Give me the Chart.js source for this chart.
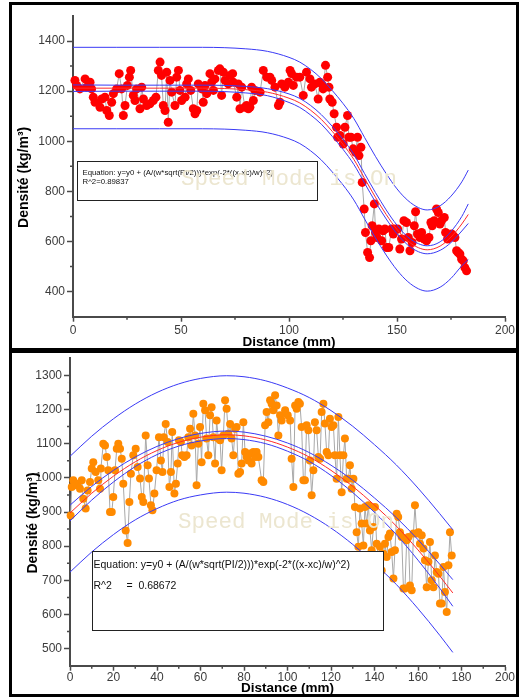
<!DOCTYPE html>
<html>
<head>
<meta charset="utf-8">
<script src="https://cdn.jsdelivr.net/npm/chart.js@4.4.0/dist/chart.umd.min.js"></script>
<style>
    body { margin: 0; background: #fff; }
    .panel { position: absolute; left: 9px; width: 504px; border: 3px solid #000; background: #fff; }
    #top-panel { top: 2px; height: 343px; }
    #bottom-panel { top: 350px; height: 341px; }
    canvas { display: block; }
</style>
</head>
<body>
<div class="panel" id="top-panel"><canvas id="top-chart" width="504" height="343"></canvas></div>
<div class="panel" id="bottom-panel"><canvas id="bottom-chart" width="504" height="341"></canvas></div>
<script>
// ---- top panel (red) ----
const topDistance = [
    0.9, 1.7, 3.2, 5.6, 6.3, 7.9, 8.6, 9.4, 10.2, 12.5, 13.3, 14.8, 15.6, 16.8, 17.9, 18.7, 20.2, 21.4, 22.5, 23.3,
    24.1, 25.2, 26.1, 26.7, 27.9, 28.7, 29.5, 31.0, 31.8, 32.6, 34.1, 35.6, 37.2, 38.4, 39.5, 40.3, 41.0, 41.8, 42.6, 43.4,
    44.1, 44.9, 45.7, 47.2, 48.0, 48.8, 49.5, 50.3, 51.9, 52.6, 53.4, 54.5, 55.7, 56.5, 57.3, 58.0, 59.6, 60.3, 61.1, 61.9,
    63.4, 64.2, 65.0, 65.7, 67.3, 68.0, 68.8, 69.6, 70.4, 71.9, 72.7, 73.9, 74.2, 75.8, 76.5, 77.3, 78.1, 79.6, 80.4, 81.2,
    81.9, 82.7, 83.5, 84.3, 86.6, 88.1, 89.7, 91.2, 92.0, 93.5, 95.1, 95.8, 96.6, 98.1, 99.7, 100.5, 101.2,
    102.0, 103.5, 105.0, 106.6, 108.1, 109.7, 110.4, 112.0, 113.5, 114.3, 115.1, 115.8, 116.9, 117.9, 118.5, 118.9, 120.0, 120.9, 122.0, 122.5,
    123.6, 125.1, 125.9, 127.1, 127.7, 128.7, 129.7, 130.8, 131.7, 132.4, 133.3, 133.9, 134.8, 135.4, 136.4, 137.3, 137.9, 138.5, 139.5, 140.1,
    140.7, 141.6, 142.9, 143.6, 144.4, 145.2, 146.2, 147.5, 148.3, 149.0, 150.3, 151.3, 152.1, 153.2, 154.4, 155.2, 156.0, 157.0, 158.0, 158.6,
    159.5, 160.6, 161.4, 162.6, 163.7, 164.8, 165.7, 166.3, 167.2, 168.3, 169.1, 169.9, 170.6, 171.9, 172.5, 173.4, 174.5, 175.3, 176.0, 176.8,
    177.6, 178.3, 179.1, 179.9, 180.7, 181.4, 182.2
];
const topDensity = [
    1243, 1223, 1209, 1249, 1216, 1236, 1209, 1176, 1156, 1136, 1169, 1176, 1123, 1103, 1156, 1190, 1209, 1270, 1209, 1103,
    1143, 1223, 1256, 1283, 1183, 1163, 1209, 1130, 1216, 1169, 1143, 1150, 1163, 1176, 1283, 1316, 1263, 1143, 1123, 1276,
    1076, 1243, 1196, 1143, 1256, 1283, 1203, 1163, 1176, 1229, 1249, 1203, 1130, 1110, 1123, 1229, 1209, 1156, 1223, 1190,
    1270, 1236, 1203, 1249, 1283, 1289, 1183, 1276, 1243, 1229, 1263, 1270, 1236, 1176, 1229, 1130, 1216, 1136, 1143, 1130,
    1136, 1216, 1163, 1203, 1196, 1283, 1256, 1256, 1243, 1216, 1143, 1156, 1229, 1216, 1236, 1283, 1270,
    1223, 1256, 1256, 1183, 1276, 1249, 1216, 1229, 1169, 1236, 1229, 1209, 1303, 1256, 1216, 1169, 1156, 1110, 1056, 1016,
    1023, 989, 1056, 1103, 1016, 1016, 970, 956, 1016, 943, 976, 836, 730, 636, 556, 536, 603, 663, 750, 636,
    616, 650, 603, 643, 650, 576, 576, 650, 630, 650, 650, 570, 610, 683, 676, 616, 563, 596, 663, 719,
    630, 616, 636, 610, 603, 616, 676, 663, 683, 730, 716, 670, 683, 696, 636, 610, 616, 630, 623, 616,
    563, 556, 550, 530, 523, 496, 483
];
const topFitDistance = [0, 20, 40, 60, 80, 90, 100, 105, 110, 115, 120, 125, 130, 135, 140, 145, 150, 155, 160, 164, 170, 175, 180, 183];
const topFit =       [1212, 1212, 1212, 1212, 1206, 1196, 1172, 1153, 1124, 1087, 1040, 988, 928, 852, 777, 708, 648, 602, 575, 567, 582, 618, 670, 708];
const topConfUpper = [1225, 1224, 1224, 1224, 1219, 1210, 1189, 1171, 1143, 1106, 1060, 1008, 948, 871, 796, 726, 665, 618, 591, 583, 599, 640, 700, 750];
const topConfLower = [1199, 1200, 1200, 1200, 1193, 1182, 1155, 1135, 1105, 1068, 1020, 968, 908, 833, 758, 690, 631, 586, 559, 551, 565, 596, 642, 672];
const topPredUpper = [1375, 1375, 1375, 1375, 1369, 1359, 1335, 1316, 1287, 1250, 1203, 1151, 1091, 1015, 940, 871, 810, 764, 735, 726, 743, 781, 838, 885];
const topPredLower = [1050, 1050, 1050, 1050, 1044, 1034, 1010, 991, 962, 925, 878, 826, 766, 690, 615, 546, 486, 440, 411, 402, 418, 453, 503, 528];
const topXTicks = [0, 50, 100, 150, 200];
const topXMinorTicks = [25, 75, 125, 175];
const topYTicks = [400, 600, 800, 1000, 1200, 1400];
const topYMinorTicks = [500, 700, 900, 1100, 1300];
const topBoxLines = ["Equation: y=y0 + (A/(w*sqrt(PI/2)))*exp(-2*((x-xc)/w)^2)", "R^2=0.89837"];

// ---- bottom panel (orange) ----
const bottomDistance = [
    0.3, 0.8, 1.5, 2.3, 3.5, 4.6, 5.4, 6.1, 7.2, 8.1, 9.2, 10.0, 10.7, 11.8, 13.0, 13.8, 14.2, 15.3, 16.1, 16.9, 17.6,
    18.4, 19.2, 19.9, 20.7, 21.5, 22.2, 23.0, 23.8, 24.5, 25.6, 26.5, 27.3, 28.0, 29.1, 30.2, 31.1, 32.2, 33.0, 33.7, 34.8,
    35.7, 36.3, 37.2, 37.9, 38.8, 39.8, 40.9, 41.8, 42.5, 43.1, 44.0, 44.9, 45.7, 46.4, 47.0, 48.0, 48.7, 49.5, 50.1, 51.0,
    51.6, 52.6, 53.6, 54.4, 55.2, 55.9, 56.7, 57.5, 58.2, 59.0, 59.8, 60.5, 61.3, 62.1, 62.8, 63.6, 64.4, 65.1, 65.9, 66.7,
    67.4, 68.2, 69.0, 69.7, 70.5, 71.3, 72.0, 72.8, 73.6, 74.3, 75.1, 75.9, 76.6, 77.4, 78.2, 78.9, 79.7, 80.5, 81.2, 82.0,
    82.8, 83.5, 84.3, 85.1, 85.8, 86.6, 88.1, 88.9, 89.7, 90.4, 91.2, 92.0, 92.7, 93.5, 94.3, 95.0, 95.8, 96.6, 97.3, 98.9,
    100.1, 101.2, 101.9, 102.7, 103.5, 104.2, 105.0, 105.7, 106.5, 107.3, 108.0, 108.8, 109.6, 110.3, 111.1, 111.9, 112.6, 113.4, 114.2, 115.0,
    115.7, 116.5, 117.2, 118.0, 118.8, 119.5, 120.3, 121.1, 121.8, 122.6, 123.4, 124.1, 124.9, 125.7, 126.4, 127.2, 128.0, 128.7, 129.5, 130.3,
    131.0, 131.8, 132.6, 133.3, 134.1, 134.9, 135.6, 136.4, 137.2, 137.9, 138.7, 139.5, 140.2, 141.0, 141.8, 142.5, 143.3, 144.1, 144.8, 145.6,
    146.4, 147.1, 147.9, 148.7, 149.4, 150.2, 150.9, 151.7, 152.5, 153.3, 154.0, 154.8, 155.6, 156.3, 157.1, 157.9, 158.6, 159.4, 160.2, 160.9,
    161.7, 162.5, 163.2, 164.0, 164.8, 165.5, 166.3, 167.1, 167.8, 168.6, 169.4, 170.1, 170.9, 171.7, 172.4, 173.2, 174.0, 174.7, 175.5
];
const bottomDensity = [
    890, 973, 993, 978, 983, 968, 993, 939, 910, 963, 988, 1027, 1046, 1017, 993, 968, 1027, 1100, 1095, 1061, 1022,
    900, 900, 944, 1022, 1085, 1100, 1085, 1056, 983, 846, 809, 929, 1012, 1066, 1085, 1032, 998, 944, 929, 1124,
    1037, 998, 920, 905, 954, 1022, 1119, 1051, 1017, 1119, 1158, 1105, 973, 1017, 1134, 954, 983, 1042, 1110, 1105,
    1066, 1061, 1066, 1119, 1144, 1095, 1188, 1124, 978, 1100, 1149, 1046, 1217, 1198, 1115, 1066, 1183, 1207, 1119, 1042,
    1168, 1115, 1110, 1022, 1124, 1227, 1202, 1129, 1158, 1115, 1066, 1144, 1149, 1012, 1017, 1042, 1163, 1076, 1061, 1051,
    1071, 1042, 1076, 1061, 1076, 1061, 993, 988, 1154, 1193, 1163, 1227, 1217, 1198, 1242, 1212, 1124, 1183, 1168, 1198,
    1183, 1168, 1056, 973, 1212, 1202, 1222, 1217, 1149, 993, 993, 1154, 1139, 1051, 949, 1022, 1163, 1139, 1061, 1056,
    1193, 1217, 1159, 1076, 1066, 1173, 1149, 1154, 1066, 997, 1178, 1066, 958, 1066, 1115, 997, 997, 1037, 968, 997,
    915, 841, 798, 910, 866, 802, 915, 866, 920, 846, 788, 856, 915, 807, 763, 798, 729, 778, 807, 768,
    827, 837, 783, 705, 788, 895, 885, 841, 827, 676, 676, 817, 827, 685, 671, 837, 920, 837, 841, 807,
    832, 793, 759, 680, 754, 812, 700, 680, 773, 724, 719, 632, 632, 739, 666, 607, 744, 841, 773
];
const bottomFitDistance = [0, 10, 20, 30, 40, 50, 60, 72, 80, 90, 100, 110, 120, 130, 140, 150, 160, 170, 176];
const bottomFit =       [897, 955, 1005, 1047, 1080, 1104, 1119, 1126, 1123, 1111, 1090, 1061, 1022, 975, 920, 859, 789, 712, 663];
const bottomConfUpper = [920, 975, 1022, 1061, 1092, 1115, 1130, 1137, 1134, 1122, 1102, 1074, 1037, 993, 941, 884, 819, 747, 702];
const bottomConfLower = [874, 935, 988, 1033, 1068, 1093, 1108, 1115, 1112, 1100, 1078, 1048, 1007, 957, 899, 834, 759, 677, 624];
const bottomPredUpper = [1063, 1122, 1173, 1216, 1250, 1275, 1291, 1299, 1296, 1284, 1263, 1235, 1197, 1151, 1097, 1038, 970, 895, 848];
const bottomPredLower = [724, 783, 834, 877, 910, 935, 950, 958, 955, 943, 922, 892, 853, 805, 749, 688, 617, 539, 489];
const bottomXTicks = [0, 20, 40, 60, 80, 100, 120, 140, 160, 180, 200];
const bottomXMinorTicks = [10, 30, 50, 70, 90, 110, 130, 150, 170, 190];
const bottomYTicks = [500, 600, 700, 800, 900, 1000, 1100, 1200, 1300];
const bottomYMinorTicks = [550, 650, 750, 850, 950, 1050, 1150, 1250];
const bottomBoxLines = ["Equation: y=y0 + (A/(w*sqrt(PI/2)))*exp(-2*((x-xc)/w)^2)", "R^2     =  0.68672"];

const watermarkText = "Speed Mode is On";
const yTitle = "Densité (kg/m³)";
const xTitle = "Distance (mm)";

(function () {
    const FONT = "'Liberation Sans', Arial, sans-serif";
    const AXIS = "#4a4a4a";
    const LABEL = "#3c3c3c";
    const BLUE = "#3a3af5";
    const RED = "#ff2a2a";

    function toPoints(xs, ys) {
        return xs.map((x, i) => ({ x: x, y: ys[i] }));
    }

    function fitLine(xs, ys, color, order) {
        return {
            data: toPoints(xs, ys),
            showLine: true,
            borderColor: color,
            borderWidth: 1,
            pointRadius: 0,
            cubicInterpolationMode: "monotone",
            order: order,
        };
    }

    // equation box, watermark, minor ticks and the y title
    function panelExtras(cfg) {
        return {
            id: "panelExtras",
            afterDatasetsDraw(chart) {
                const ctx = chart.ctx;
                const xs = chart.scales.x;
                const ys = chart.scales.y;
                const box = cfg.box;
                const left = Math.round(xs.getPixelForValue(box.x0)) + 0.5;
                const right = Math.round(xs.getPixelForValue(box.x1)) + 0.5;
                const top = Math.round(ys.getPixelForValue(box.y1)) + 0.5;
                const bottom = Math.round(ys.getPixelForValue(box.y0)) + 0.5;
                ctx.save();
                ctx.fillStyle = "#fff";
                ctx.fillRect(left, top, right - left, bottom - top);
                ctx.strokeStyle = "#222";
                ctx.lineWidth = 1;
                ctx.strokeRect(left, top, right - left, bottom - top);
                ctx.fillStyle = "#111";
                ctx.font = box.fontSize + "px " + FONT;
                ctx.textBaseline = "middle";
                ctx.textAlign = "left";
                box.lines.forEach((line, i) => {
                    ctx.fillText(line, left + box.padX, top + box.lineY[i]);
                });

                ctx.font = "22.5px 'Liberation Mono', 'Courier New', monospace";
                ctx.fillStyle = "#ece6d0";
                ctx.textAlign = "center";
                ctx.fillText(watermarkText, xs.getPixelForValue(cfg.watermark.x), ys.getPixelForValue(cfg.watermark.y));
                ctx.restore();
            },
            afterDraw(chart) {
                const ctx = chart.ctx;
                const xs = chart.scales.x;
                const ys = chart.scales.y;
                ctx.save();
                ctx.strokeStyle = AXIS;
                ctx.lineWidth = 1.5;
                ctx.beginPath();
                cfg.xMinor.forEach((v) => {
                    const px = xs.getPixelForValue(v);
                    ctx.moveTo(px, xs.top);
                    ctx.lineTo(px, xs.top + 3);
                });
                cfg.yMinor.forEach((v) => {
                    const py = ys.getPixelForValue(v);
                    ctx.moveTo(ys.right - 3, py);
                    ctx.lineTo(ys.right, py);
                });
                ctx.stroke();

                const area = chart.chartArea;
                ctx.translate(cfg.yTitleX, (area.top + area.bottom) / 2 + 11);
                ctx.rotate(-Math.PI / 2);
                ctx.fillStyle = "#000";
                ctx.font = "bold 14px " + FONT;
                ctx.textAlign = "center";
                ctx.textBaseline = "middle";
                ctx.fillText(yTitle, 0, 0);
                ctx.restore();
            },
        };
    }

    function drawPanel(canvasId, cfg) {
        const datasets = [
            {
                data: toPoints(cfg.distance, cfg.density),
                showLine: true,
                borderColor: "#a8a8a8",
                borderWidth: 1,
                pointRadius: cfg.pointRadius,
                pointBackgroundColor: cfg.pointColor,
                pointBorderWidth: 0,
                order: 5,
                clip: 8,
            },
            fitLine(cfg.fitX, cfg.predUpper, BLUE, 1),
            fitLine(cfg.fitX, cfg.predLower, BLUE, 1),
            fitLine(cfg.fitX, cfg.confUpper, BLUE, 2),
            fitLine(cfg.fitX, cfg.confLower, BLUE, 2),
            fitLine(cfg.fitX, cfg.fit, RED, 3),
        ];

        const axisGrid = (len) => ({
            display: true,
            drawOnChartArea: false,
            drawTicks: true,
            tickLength: len,
            tickColor: AXIS,
            tickWidth: 1.5,
        });
        const tickFont = { family: FONT, size: 12 };

        new Chart(document.getElementById(canvasId).getContext("2d"), {
            type: "scatter",
            data: { datasets: datasets },
            options: {
                responsive: false,
                animation: false,
                layout: { padding: { left: 0, right: 11, top: cfg.padTop, bottom: 0 } },
                plugins: { legend: { display: false }, tooltip: { enabled: false } },
                scales: {
                    x: {
                        type: "linear",
                        min: cfg.xMin,
                        max: cfg.xMax,
                        afterBuildTicks: (scale) => {
                            scale.ticks = cfg.xTicks.map((v) => ({ value: v }));
                        },
                        afterFit: (scale) => {
                            scale.height = cfg.xAxisHeight;
                            scale.paddingLeft = 0;
                            scale.paddingRight = 0;
                        },
                        grid: axisGrid(5),
                        border: { display: true, color: AXIS, width: 2 },
                        ticks: {
                            color: LABEL,
                            font: tickFont,
                            padding: cfg.xLabelPad,
                            autoSkip: false,
                            maxRotation: 0,
                            callback: (v) => String(v),
                        },
                        title: {
                            display: true,
                            text: xTitle,
                            color: "#000",
                            font: { family: FONT, size: 13.5, weight: "bold", lineHeight: 0.9 },
                            padding: { top: 0, bottom: 0 },
                        },
                    },
                    y: {
                        type: "linear",
                        min: cfg.yMin,
                        max: cfg.yMax,
                        afterBuildTicks: (scale) => {
                            scale.ticks = cfg.yTicks.map((v) => ({ value: v }));
                        },
                        afterFit: (scale) => {
                            scale.width = cfg.yAxisWidth;
                            scale.paddingTop = 0;
                            scale.paddingBottom = 0;
                        },
                        grid: axisGrid(6),
                        border: { display: true, color: AXIS, width: 2 },
                        ticks: {
                            color: LABEL,
                            font: tickFont,
                            padding: 2,
                            autoSkip: false,
                            callback: (v) => String(v),
                        },
                    },
                },
            },
            plugins: [panelExtras(cfg)],
        });
    }

    drawPanel("top-chart", {
        distance: topDistance,
        density: topDensity,
        fitX: topFitDistance,
        fit: topFit,
        confUpper: topConfUpper,
        confLower: topConfLower,
        predUpper: topPredUpper,
        predLower: topPredLower,
        pointColor: "#ff0000",
        pointRadius: 4.5,
        xMin: 0,
        xMax: 200,
        yMin: 300,
        yMax: 1500,
        xTicks: topXTicks,
        xMinor: topXMinorTicks,
        yTicks: topYTicks,
        yMinor: topYMinorTicks,
        padTop: 11,
        xAxisHeight: 31.3,
        xLabelPad: 2,
        yAxisWidth: 61,
        yTitleX: 12,
        box: { x0: 1.7, x1: 113, y0: 766, y1: 923, lines: topBoxLines, lineY: [11.5, 20], padX: 5, fontSize: 7.8 },
        watermark: { x: 100, y: 851 },
    });

    drawPanel("bottom-chart", {
        distance: bottomDistance,
        density: bottomDensity,
        fitX: bottomFitDistance,
        fit: bottomFit,
        confUpper: bottomConfUpper,
        confLower: bottomConfLower,
        predUpper: bottomPredUpper,
        predLower: bottomPredLower,
        pointColor: "#ff8a00",
        pointRadius: 4,
        xMin: 0,
        xMax: 200,
        yMin: 450,
        yMax: 1350,
        xTicks: bottomXTicks,
        xMinor: bottomXMinorTicks,
        yTicks: bottomYTicks,
        yMinor: bottomYMinorTicks,
        padTop: 5.3,
        xAxisHeight: 28.3,
        xLabelPad: 0,
        yAxisWidth: 58,
        yTitleX: 21,
        box: { x0: 10.3, x1: 143.8, y0: 553.6, y1: 785.7, lines: bottomBoxLines, lineY: [13.6, 34.6], padX: 1, fontSize: 10.5 },
        watermark: { x: 99.3, y: 870 },
    });
})();
</script>
</body>
</html>
